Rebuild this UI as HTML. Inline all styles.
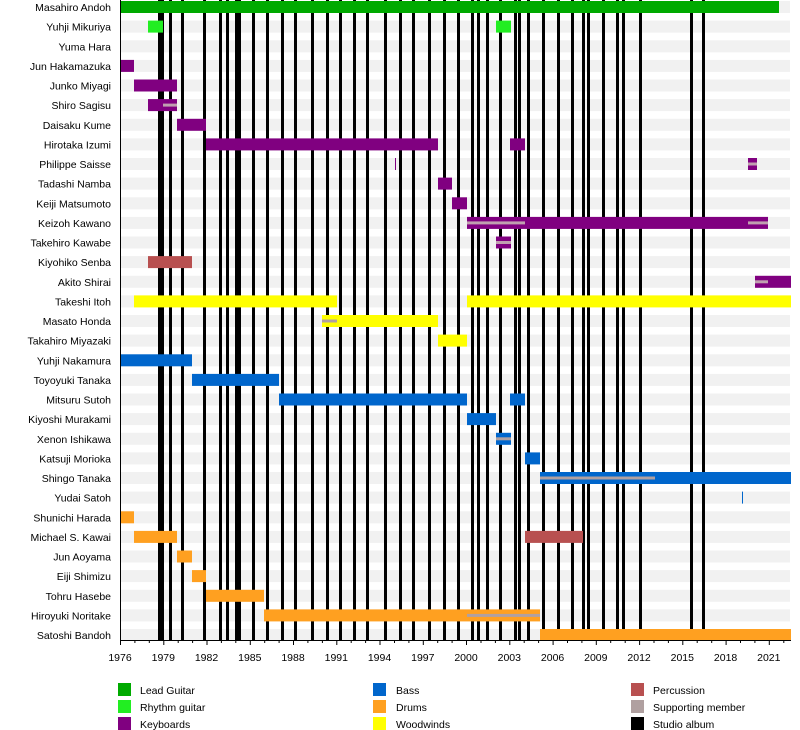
<!DOCTYPE html>
<html><head><meta charset="utf-8"><style>
body{margin:0;background:#fff}
svg{display:block;font-family:"Liberation Sans",sans-serif}
</style></head><body>
<svg width="800" height="730" viewBox="0 0 800 730" xmlns="http://www.w3.org/2000/svg">
<g fill="#f1f1f1">
<rect x="120" y="1" width="670" height="12"/><rect x="120" y="20.6" width="670" height="12"/><rect x="120" y="40.3" width="670" height="12"/><rect x="120" y="59.9" width="670" height="12"/><rect x="120" y="79.5" width="670" height="12"/><rect x="120" y="99.1" width="670" height="12"/><rect x="120" y="118.8" width="670" height="12"/><rect x="120" y="138.4" width="670" height="12"/><rect x="120" y="158" width="670" height="12"/><rect x="120" y="177.6" width="670" height="12"/><rect x="120" y="197.3" width="670" height="12"/><rect x="120" y="216.9" width="670" height="12"/><rect x="120" y="236.5" width="670" height="12"/><rect x="120" y="256.1" width="670" height="12"/><rect x="120" y="275.8" width="670" height="12"/><rect x="120" y="295.4" width="670" height="12"/><rect x="120" y="315" width="670" height="12"/><rect x="120" y="334.6" width="670" height="12"/><rect x="120" y="354.3" width="670" height="12"/><rect x="120" y="373.9" width="670" height="12"/><rect x="120" y="393.5" width="670" height="12"/><rect x="120" y="413.1" width="670" height="12"/><rect x="120" y="432.8" width="670" height="12"/><rect x="120" y="452.4" width="670" height="12"/><rect x="120" y="472" width="670" height="12"/><rect x="120" y="491.6" width="670" height="12"/><rect x="120" y="511.3" width="670" height="12"/><rect x="120" y="530.9" width="670" height="12"/><rect x="120" y="550.5" width="670" height="12"/><rect x="120" y="570.1" width="670" height="12"/><rect x="120" y="589.8" width="670" height="12"/><rect x="120" y="609.4" width="670" height="12"/><rect x="120" y="629" width="670" height="12"/>
</g>
<!-- album lines -->
<g fill="#000">
<rect x="158" y="0" width="6" height="640"/><rect x="169" y="0" width="3" height="640"/><rect x="181" y="0" width="3" height="640"/><rect x="203" y="0" width="3" height="640"/><rect x="219" y="0" width="3" height="640"/><rect x="226" y="0" width="3" height="640"/><rect x="235" y="0" width="6" height="640"/><rect x="252" y="0" width="3" height="640"/><rect x="266" y="0" width="3" height="640"/><rect x="281" y="0" width="3" height="640"/><rect x="294" y="0" width="3" height="640"/><rect x="311" y="0" width="3" height="640"/><rect x="326" y="0" width="3" height="640"/><rect x="339" y="0" width="3" height="640"/><rect x="353" y="0" width="3" height="640"/><rect x="366" y="0" width="3" height="640"/><rect x="384" y="0" width="3" height="640"/><rect x="399" y="0" width="3" height="640"/><rect x="412" y="0" width="3" height="640"/><rect x="428" y="0" width="3" height="640"/><rect x="443" y="0" width="3" height="640"/><rect x="457" y="0" width="3" height="640"/><rect x="471" y="0" width="3" height="640"/><rect x="477" y="0" width="3" height="640"/><rect x="486" y="0" width="3" height="640"/><rect x="499" y="0" width="3" height="640"/><rect x="514" y="0" width="3" height="640"/><rect x="518" y="0" width="3" height="640"/><rect x="527" y="0" width="3" height="640"/><rect x="542" y="0" width="3" height="640"/><rect x="557" y="0" width="3" height="640"/><rect x="571" y="0" width="3" height="640"/><rect x="582" y="0" width="3" height="640"/><rect x="587" y="0" width="3" height="640"/><rect x="602" y="0" width="3" height="640"/><rect x="616" y="0" width="3" height="640"/><rect x="622" y="0" width="3" height="640"/><rect x="639" y="0" width="3" height="640"/><rect x="690" y="0" width="3" height="640"/><rect x="702" y="0" width="3" height="640"/>
</g>
<!-- bars -->
<g>
<rect x="121" y="1" width="658" height="12" fill="#00aa00"/>
<rect x="148" y="20.6" width="15" height="12" fill="#22ee22"/><rect x="496" y="20.6" width="15" height="12" fill="#22ee22"/>
<g fill="#800080">
<rect x="121" y="59.9" width="13" height="12"/>
<rect x="134" y="79.5" width="43" height="12"/>
<rect x="148" y="99.1" width="29" height="12"/>
<rect x="177" y="118.8" width="29" height="12"/>
<rect x="206" y="138.4" width="232" height="12"/><rect x="510" y="138.4" width="15" height="12"/>
<rect x="395" y="158" width="1" height="12"/><rect x="748" y="158" width="9" height="12"/>
<rect x="438" y="177.6" width="14" height="12"/>
<rect x="452" y="197.3" width="15" height="12"/>
<rect x="467" y="216.9" width="301" height="12"/>
<rect x="496" y="236.5" width="15" height="12"/>
<rect x="755" y="275.8" width="36" height="12"/>
</g>
<rect x="148" y="256.1" width="44" height="12" fill="#b85050"/>
<rect x="525" y="530.9" width="58" height="12" fill="#b85050"/>
<g fill="#ffff00">
<rect x="134" y="295.4" width="203" height="12"/><rect x="467" y="295.4" width="324" height="12"/>
<rect x="322" y="315" width="116" height="12"/>
<rect x="438" y="334.6" width="29" height="12"/>
</g>
<g fill="#0066cc">
<rect x="121" y="354.3" width="71" height="12"/>
<rect x="192" y="373.9" width="87" height="12"/>
<rect x="279" y="393.5" width="188" height="12"/><rect x="510" y="393.5" width="15" height="12"/>
<rect x="467" y="413.1" width="29" height="12"/>
<rect x="496" y="432.8" width="15" height="12"/>
<rect x="525" y="452.4" width="15" height="12"/>
<rect x="540" y="472" width="251" height="12"/>
<rect x="742" y="491.6" width="1" height="12"/>
</g>
<g fill="#ffa020">
<rect x="121" y="511.3" width="13" height="12"/>
<rect x="134" y="530.9" width="43" height="12"/>
<rect x="177" y="550.5" width="15" height="12"/>
<rect x="192" y="570.1" width="14" height="12"/>
<rect x="206" y="589.8" width="58" height="12"/>
<rect x="264" y="609.4" width="276" height="12"/>
<rect x="540" y="629" width="251" height="12"/>
</g>
<g fill="#c0a0b0">
<rect x="163" y="103.6" width="14" height="3"/>
<rect x="748" y="162.5" width="9" height="3"/>
<rect x="467" y="221.4" width="58" height="3"/><rect x="748" y="221.4" width="20" height="3"/>
<rect x="496" y="241" width="15" height="3"/>
<rect x="755" y="280.3" width="13" height="3"/>
</g>
<g fill="#b0a0a0">
<rect x="322" y="319.5" width="15" height="3"/>
<rect x="496" y="437.3" width="15" height="3"/>
<rect x="540" y="476.5" width="115" height="3"/>
<rect x="467" y="613.9" width="73" height="3"/>
</g>
</g>
<!-- axes -->
<line x1="120.5" y1="0" x2="120.5" y2="641" stroke="#000" stroke-width="1"/>
<line x1="120" y1="640.5" x2="791" y2="640.5" stroke="#000" stroke-width="1"/>
<g stroke="#000" stroke-width="1">
<path d="M120.5 640v5M134.9 640v3M149.3 640v3M163.8 640v5M178.2 640v3M192.6 640v3M207 640v5M221.4 640v3M235.8 640v3M250.3 640v5M264.7 640v3M279.1 640v3M293.5 640v5M307.9 640v3M322.4 640v3M336.8 640v5M351.2 640v3M365.6 640v3M380 640v5M394.5 640v3M408.9 640v3M423.3 640v5M437.7 640v3M452.1 640v3M466.5 640v5M481 640v3M495.4 640v3M509.8 640v5M524.2 640v3M538.6 640v3M553.1 640v5M567.5 640v3M581.9 640v3M596.3 640v5M610.7 640v3M625.2 640v3M639.6 640v5M654 640v3M668.4 640v3M682.8 640v5M697.2 640v3M711.7 640v3M726.1 640v5M740.5 640v3M754.9 640v3M769.3 640v5M783.8 640v3"/>
</g>
<g font-size="10.5" text-anchor="middle" fill="#000">
<text x="120" y="661">1976</text><text x="163.3" y="661">1979</text><text x="206.5" y="661">1982</text><text x="249.8" y="661">1985</text><text x="293" y="661">1988</text><text x="336.3" y="661">1991</text><text x="379.5" y="661">1994</text><text x="422.8" y="661">1997</text><text x="466" y="661">2000</text><text x="509.3" y="661">2003</text><text x="552.6" y="661">2006</text><text x="595.8" y="661">2009</text><text x="639.1" y="661">2012</text><text x="682.3" y="661">2015</text><text x="725.6" y="661">2018</text><text x="768.8" y="661">2021</text>
</g>
<g font-size="10.5" text-anchor="end" fill="#000">
<text x="111" y="11">Masahiro Andoh</text><text x="111" y="30.6">Yuhji Mikuriya</text><text x="111" y="50.3">Yuma Hara</text><text x="111" y="69.9">Jun Hakamazuka</text><text x="111" y="89.5">Junko Miyagi</text><text x="111" y="109.1">Shiro Sagisu</text><text x="111" y="128.8">Daisaku Kume</text><text x="111" y="148.4">Hirotaka Izumi</text><text x="111" y="168">Philippe Saisse</text><text x="111" y="187.6">Tadashi Namba</text><text x="111" y="207.3">Keiji Matsumoto</text><text x="111" y="226.9">Keizoh Kawano</text><text x="111" y="246.5">Takehiro Kawabe</text><text x="111" y="266.1">Kiyohiko Senba</text><text x="111" y="285.8">Akito Shirai</text><text x="111" y="305.4">Takeshi Itoh</text><text x="111" y="325">Masato Honda</text><text x="111" y="344.6">Takahiro Miyazaki</text><text x="111" y="364.3">Yuhji Nakamura</text><text x="111" y="383.9">Toyoyuki Tanaka</text><text x="111" y="403.5">Mitsuru Sutoh</text><text x="111" y="423.1">Kiyoshi Murakami</text><text x="111" y="442.8">Xenon Ishikawa</text><text x="111" y="462.4">Katsuji Morioka</text><text x="111" y="482">Shingo Tanaka</text><text x="111" y="501.6">Yudai Satoh</text><text x="111" y="521.3">Shunichi Harada</text><text x="111" y="540.9">Michael S. Kawai</text><text x="111" y="560.5">Jun Aoyama</text><text x="111" y="580.1">Eiji Shimizu</text><text x="111" y="599.8">Tohru Hasebe</text><text x="111" y="619.4">Hiroyuki Noritake</text><text x="111" y="639">Satoshi Bandoh</text>
</g>
<!-- legend -->
<rect x="118" y="683" width="13" height="13" fill="#00aa00"/><rect x="118" y="700" width="13" height="13" fill="#22ee22"/><rect x="118" y="717" width="13" height="13" fill="#800080"/>
<rect x="373" y="683" width="13" height="13" fill="#0066cc"/><rect x="373" y="700" width="13" height="13" fill="#ffa020"/><rect x="373" y="717" width="13" height="13" fill="#ffff00"/>
<rect x="631" y="683" width="13" height="13" fill="#b85050"/><rect x="631" y="700" width="13" height="13" fill="#b0a0a0"/><rect x="631" y="717" width="13" height="13" fill="#000"/>
<g font-size="10.5" fill="#000">
<text x="140" y="694">Lead Guitar</text><text x="140" y="711">Rhythm guitar</text><text x="140" y="728">Keyboards</text>
<text x="396" y="694">Bass</text><text x="396" y="711">Drums</text><text x="396" y="728">Woodwinds</text>
<text x="653" y="694">Percussion</text><text x="653" y="711">Supporting member</text><text x="653" y="728">Studio album</text>
</g>
</svg>
</body></html>
